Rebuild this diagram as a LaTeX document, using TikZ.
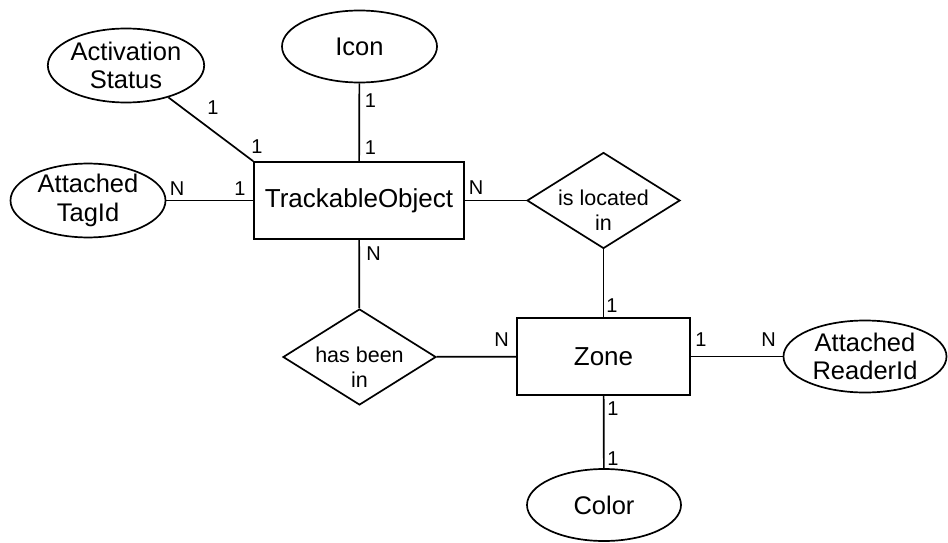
\documentclass[tikz,border=0pt]{standalone}
\usepackage{fontspec}
\setmainfont{Liberation Sans}
\usetikzlibrary{shapes.geometric}

\tikzset{
  entity/.style={draw, line width=1.7pt, rectangle, inner sep=0pt,
    font=\fontsize{26}{29}\selectfont},
  attrib/.style={draw, line width=1.7pt, ellipse, inner sep=0pt,
    align=center, font=\fontsize{25.5}{28.5}\selectfont},
  relship/.style={draw, line width=1.7pt, diamond, inner sep=0pt,
    minimum width=153pt, minimum height=96pt},
  reltext/.style={align=center, inner sep=0pt, font=\fontsize{21.5}{25}\selectfont},
  link/.style={line width=1.7pt},
  card/.style={inner sep=0pt, font=\fontsize{20}{22}\selectfont}
}

\begin{document}
\begin{tikzpicture}[x=1pt,y=-1pt]
  \useasboundingbox (0,0) rectangle (948,543);

  % entities
  \node[entity, minimum width=210pt, minimum height=77pt] (to) at (359,200.5) {TrackableObject};
  \node[entity, minimum width=173pt, minimum height=77pt] (zone) at (603.5,356.5) {Zone};

  % attributes
  \node[attrib, minimum width=143pt, minimum height=74pt] (act) at (126,65.5) {Activation\\Status};
  \node[attrib, minimum width=155pt, minimum height=72pt] (icon) at (359.5,46.5) {Icon};
  \node[attrib, minimum width=155pt, minimum height=70pt] (tag) at (88,200.5) {Attached\\TagId};
  \node[attrib, minimum width=163pt, minimum height=72pt] (reader) at (865,356.5) {Attached\\ReaderId};
  \node[attrib, minimum width=154pt, minimum height=72pt] (color) at (604,505) {Color};

  % relationships
  \node[relship] (loc) at (603.5,200.5) {};
  \node[reltext] (loctext) at (603.5,210.5) {is located\\in};
  \node[relship] (been) at (359.5,357) {};
  \node[reltext] (beentext) at (359.5,367) {has been\\in};

  % connectors
  \draw[link] (act) -- (to.north west);
  \draw[link] (icon) -- (to);
  \draw[link] (tag) -- (to);
  \draw[link] (to) -- (loc);
  \draw[link] (to) -- (been);
  \draw[link] (been) -- (zone);
  \draw[link] (loc) -- (zone);
  \draw[link] (zone) -- (reader);
  \draw[link] (zone) -- (color);

  % cardinalities
  \node[card] (c1) at (213,107.5) {1};
  \node[card] (c2) at (257,147) {1};
  \node[card] (c3) at (370.5,101) {1};
  \node[card] (c4) at (370.5,148) {1};
  \node[card] (c5) at (177,189) {N};
  \node[card] (c6) at (240,189) {1};
  \node[card] (c7) at (476,188) {N};
  \node[card] (c8) at (373.5,254) {N};
  \node[card] (c9) at (501.5,340) {N};
  \node[card] (c10) at (612,305.5) {1};
  \node[card] (c11) at (701,340) {1};
  \node[card] (c12) at (768.5,340) {N};
  \node[card] (c13) at (613,408.5) {1};
  \node[card] (c14) at (613,459) {1};
\end{tikzpicture}
\end{document}
